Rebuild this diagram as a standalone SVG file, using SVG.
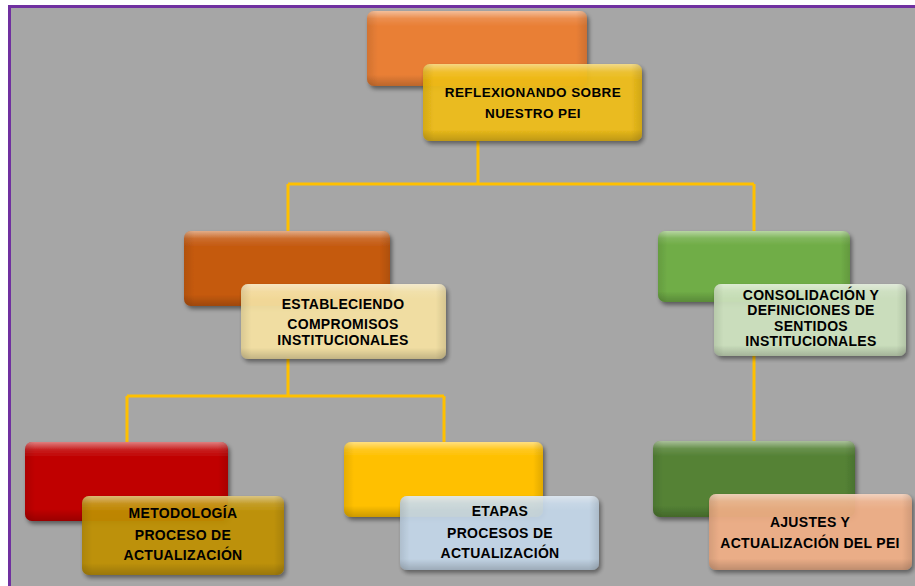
<svg xmlns="http://www.w3.org/2000/svg" width="915" height="586" viewBox="0 0 915 586">
<defs>
<filter id="sh" x="-10%" y="-10%" width="130%" height="140%">
<feDropShadow dx="2" dy="3" stdDeviation="2" flood-color="#000" flood-opacity="0.45"/>
</filter>
<linearGradient id="gv" x1="0" y1="0" x2="0" y2="1">
<stop offset="0" stop-color="#fff" stop-opacity="0.5"/>
<stop offset="0.1" stop-color="#fff" stop-opacity="0.12"/>
<stop offset="0.2" stop-color="#fff" stop-opacity="0"/>
<stop offset="0.85" stop-color="#000" stop-opacity="0"/>
<stop offset="1" stop-color="#000" stop-opacity="0.2"/>
</linearGradient>
<linearGradient id="gh" x1="0" y1="0" x2="1" y2="0">
<stop offset="0" stop-color="#000" stop-opacity="0.1"/>
<stop offset="0.05" stop-color="#000" stop-opacity="0"/>
<stop offset="0.95" stop-color="#000" stop-opacity="0"/>
<stop offset="1" stop-color="#000" stop-opacity="0.12"/>
</linearGradient>
</defs>
<style>
.bx{filter:url(#sh)}
.ov1{fill:url(#gv)}
.ov2{fill:url(#gh)}
.fr{opacity:0.93}
.conn{fill:none;stroke:#FFC000;stroke-width:3}
text{font-family:"Liberation Sans",Arial,sans-serif;font-weight:bold;font-size:14px;letter-spacing:0.3px;fill:#000;text-anchor:middle;dominant-baseline:central}
</style>
<rect x="0" y="0" width="915" height="586" fill="#fff"/>
<rect x="9.5" y="6.5" width="915" height="590" fill="#A6A6A6" stroke="#7030A0" stroke-width="3"/>

<g id="connectors">
<path class="conn" d="M478 140 V184 M288 184 H754 M288 184 V232 M754 184 V232"/>
<path class="conn" d="M288 358 V396 M127 396 H444 M127 396 V443 M444 396 V443"/>
<path class="conn" d="M754 354 V442"/>
</g>

<g id="node-reflexionando">
<g class="bx"><rect x="367" y="11" width="220" height="75" rx="7" fill="#E97F36"/><rect x="367" y="11" width="220" height="75" rx="7" class="ov1"/><rect x="367" y="11" width="220" height="75" rx="7" class="ov2"/></g>
<g class="bx fr"><rect x="423" y="64" width="219" height="77" rx="7" fill="#F0BD12"/><rect x="423" y="64" width="219" height="77" rx="7" class="ov1"/><rect x="423" y="64" width="219" height="77" rx="7" class="ov2"/></g>
<text x="533" y="92" style="font-size:13.5px;letter-spacing:0.4px">REFLEXIONANDO SOBRE</text>
<text x="533" y="113" style="font-size:13.5px;letter-spacing:0.4px">NUESTRO PEI</text>
</g>

<g id="node-estableciendo">
<g class="bx"><rect x="184" y="231" width="206" height="75" rx="7" fill="#C55A11"/><rect x="184" y="231" width="206" height="75" rx="7" class="ov1"/><rect x="184" y="231" width="206" height="75" rx="7" class="ov2"/></g>
<g class="bx fr"><rect x="241" y="284" width="205" height="75" rx="7" fill="#F6E2A2"/><rect x="241" y="284" width="205" height="75" rx="7" class="ov1"/><rect x="241" y="284" width="205" height="75" rx="7" class="ov2"/></g>
<text x="343" y="304">ESTABLECIENDO</text>
<text x="343" y="324">COMPROMISOS</text>
<text x="343" y="340">INSTITUCIONALES</text>
</g>

<g id="node-consolidacion">
<g class="bx"><rect x="658" y="231" width="192" height="71" rx="7" fill="#70AD47"/><rect x="658" y="231" width="192" height="71" rx="7" class="ov1"/><rect x="658" y="231" width="192" height="71" rx="7" class="ov2"/></g>
<g class="bx fr"><rect x="714" y="284" width="192" height="72" rx="7" fill="#CDE2BE"/><rect x="714" y="284" width="192" height="72" rx="7" class="ov1"/><rect x="714" y="284" width="192" height="72" rx="7" class="ov2"/></g>
<text x="811" y="294.5">CONSOLIDACIÓN Y</text>
<text x="811" y="310">DEFINICIONES DE</text>
<text x="811" y="325.5">SENTIDOS</text>
<text x="811" y="341">INSTITUCIONALES</text>
</g>

<g id="node-metodologia">
<g class="bx"><rect x="25" y="442" width="203" height="79" rx="7" fill="#C00000"/><rect x="25" y="442" width="203" height="79" rx="7" class="ov1"/><rect x="25" y="442" width="203" height="79" rx="7" class="ov2"/></g>
<g class="bx fr"><rect x="82" y="496" width="202" height="79" rx="7" fill="#BF9000"/><rect x="82" y="496" width="202" height="79" rx="7" class="ov1"/><rect x="82" y="496" width="202" height="79" rx="7" class="ov2"/></g>
<text x="183" y="513">METODOLOGÍA</text>
<text x="183" y="535">PROCESO DE</text>
<text x="183" y="555">ACTUALIZACIÓN</text>
</g>

<g id="node-etapas">
<g class="bx"><rect x="344" y="442" width="199" height="75" rx="7" fill="#FFC000"/><rect x="344" y="442" width="199" height="75" rx="7" class="ov1"/><rect x="344" y="442" width="199" height="75" rx="7" class="ov2"/></g>
<g class="bx fr"><rect x="400" y="496" width="199" height="74" rx="7" fill="#C3D6E8"/><rect x="400" y="496" width="199" height="74" rx="7" class="ov1"/><rect x="400" y="496" width="199" height="74" rx="7" class="ov2"/></g>
<text x="500" y="511">ETAPAS</text>
<text x="500" y="533">PROCESOS DE</text>
<text x="500" y="553">ACTUALIZACIÓN</text>
</g>

<g id="node-ajustes">
<g class="bx"><rect x="653" y="441" width="202" height="76" rx="7" fill="#548235"/><rect x="653" y="441" width="202" height="76" rx="7" class="ov1"/><rect x="653" y="441" width="202" height="76" rx="7" class="ov2"/></g>
<g class="bx fr"><rect x="709" y="494" width="203" height="76" rx="7" fill="#F0AE85"/><rect x="709" y="494" width="203" height="76" rx="7" class="ov1"/><rect x="709" y="494" width="203" height="76" rx="7" class="ov2"/></g>
<text x="810" y="522">AJUSTES Y</text>
<text x="810" y="543">ACTUALIZACIÓN DEL PEI</text>
</g>
</svg>
